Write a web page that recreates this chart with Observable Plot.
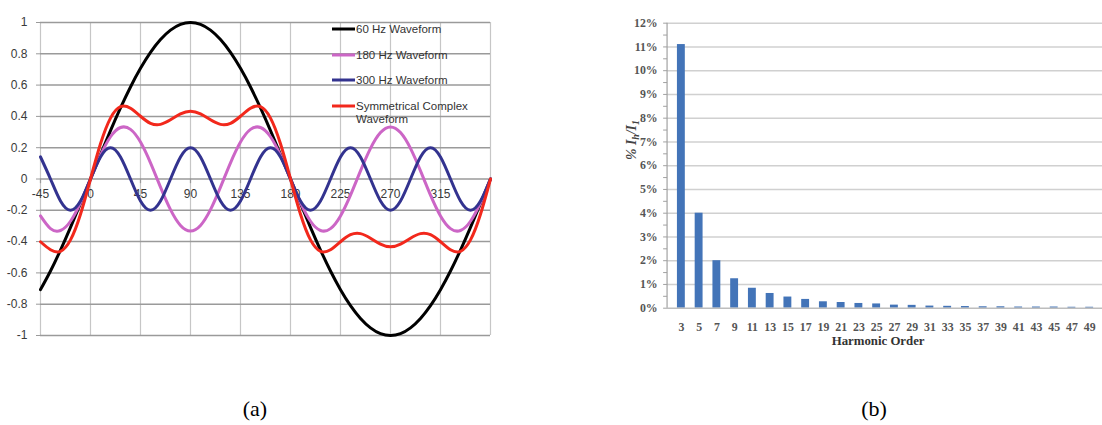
<!DOCTYPE html>
<html>
<head>
<meta charset="utf-8">
<script src="https://cdn.jsdelivr.net/npm/d3@7"></script>
<script src="https://cdn.jsdelivr.net/npm/@observablehq/plot@0.6"></script>
<style>
  html, body { margin: 0; padding: 0; background: #fff; overflow: hidden; }
  #fig { position: relative; width: 1102px; height: 425px; overflow: hidden; background: #fff; }
  .panel { position: absolute; top: 0; }
  .cap { position: absolute; width: 100px; text-align: center; font-family: "Liberation Serif", "Times New Roman", serif; font-size: 22px; line-height: 22px; color: #000; }
</style>
</head>
<body>
<div id="fig">
  <div id="panelA" class="panel" style="left:0px"></div>
  <div id="panelB" class="panel" style="left:600px"></div>
  <div class="cap" style="left:205px; top:398px">(a)</div>
  <div class="cap" style="left:824px; top:398px">(b)</div>
</div>
<script>
// ---- (a) one cycle of the fundamental and its odd harmonics, sampled every 9 degrees ----
const angle = [-45, -36, -27, -18, -9,
  0, 9, 18, 27, 36, 45, 54, 63, 72, 81,
  90, 99, 108, 117, 126, 135, 144, 153, 162, 171,
  180, 189, 198, 207, 216, 225, 234, 243, 252, 261,
  270, 279, 288, 297, 306, 315, 324, 333, 342, 351,
  360];

const wave60 = [-0.707, -0.588, -0.454, -0.309, -0.156,
  0, 0.156, 0.309, 0.454, 0.588, 0.707, 0.809, 0.891, 0.951, 0.988,
  1, 0.988, 0.951, 0.891, 0.809, 0.707, 0.588, 0.454, 0.309, 0.156,
  0, -0.156, -0.309, -0.454, -0.588, -0.707, -0.809, -0.891, -0.951, -0.988,
  -1, -0.988, -0.951, -0.891, -0.809, -0.707, -0.588, -0.454, -0.309, -0.156,
  0];

const wave180 = [-0.236, -0.317, -0.329, -0.270, -0.151,
  0, 0.151, 0.270, 0.329, 0.317, 0.236, 0.103, -0.052, -0.196, -0.297,
  -0.333, -0.297, -0.196, -0.052, 0.103, 0.236, 0.317, 0.329, 0.270, 0.151,
  0, -0.151, -0.270, -0.329, -0.317, -0.236, -0.103, 0.052, 0.196, 0.297,
  0.333, 0.297, 0.196, 0.052, -0.103, -0.236, -0.317, -0.329, -0.270, -0.151,
  0];

const wave300 = [0.141, 0, -0.141, -0.2, -0.141,
  0, 0.141, 0.2, 0.141, 0, -0.141, -0.2, -0.141, 0, 0.141,
  0.2, 0.141, 0, -0.141, -0.2, -0.141, 0, 0.141, 0.2, 0.141,
  0, -0.141, -0.2, -0.141, 0, 0.141, 0.2, 0.141, 0, -0.141,
  -0.2, -0.141, 0, 0.141, 0.2, 0.141, 0, -0.141, -0.2, -0.141,
  0];

const waveComplex = [-0.401, -0.452, -0.462, -0.389, -0.225,
  0, 0.225, 0.389, 0.462, 0.452, 0.401, 0.356, 0.349, 0.378, 0.416,
  0.433, 0.416, 0.378, 0.349, 0.356, 0.401, 0.452, 0.462, 0.389, 0.225,
  0, -0.225, -0.389, -0.462, -0.452, -0.401, -0.356, -0.349, -0.378, -0.416,
  -0.433, -0.416, -0.378, -0.349, -0.356, -0.401, -0.452, -0.462, -0.389, -0.225,
  0];

const waveNames = ["60 Hz Waveform", "180 Hz Waveform", "300 Hz Waveform", "Symmetrical Complex Waveform"];
const waveLegendLines = [["60 Hz Waveform"], ["180 Hz Waveform"], ["300 Hz Waveform"], ["Symmetrical Complex", "Waveform"]];
const waveColors = ["#000000", "#cc66c6", "#33338f", "#f2281c"];
const angleGrid = [-45, 0, 45, 90, 135, 180, 225, 270, 315, 360];
const angleLabels = [-45, 0, 45, 90, 135, 180, 225, 270, 315];
const ampTicks = [1, 0.8, 0.6, 0.4, 0.2, 0, -0.2, -0.4, -0.6, -0.8, -1];

// ---- (b) harmonic spectrum, percent of the fundamental ----
const harmonicOrder = [3, 5, 7, 9, 11, 13, 15, 17, 19, 21, 23, 25, 27, 29, 31, 33, 35, 37, 39, 41, 43, 45, 47, 49];
const harmonicPct = [11.1, 4.0, 2.0, 1.24, 0.84, 0.62, 0.47, 0.37, 0.27, 0.24, 0.2, 0.18, 0.13, 0.12, 0.09, 0.08, 0.07, 0.06, 0.06, 0.05, 0.05, 0.05, 0.04, 0.04];
const pctTicks = [0, 1, 2, 3, 4, 5, 6, 7, 8, 9, 10, 11, 12];
const pctMinorTicks = [0, 0.5, 1, 1.5, 2, 2.5, 3, 3.5, 4, 4.5, 5, 5.5, 6, 6.5, 7, 7.5, 8, 8.5, 9, 9.5, 10, 10.5, 11, 11.5, 12];

// long-form rows for the line mark
const waveSeries = [wave60, wave180, wave300, waveComplex];
const waveRows = waveSeries.flatMap((vals, k) =>
  vals.map((v, j) => ({angle: angle[j], value: v, name: waveNames[k]})));

const sans = "'Liberation Sans', Arial, sans-serif";
const serif = "'Liberation Serif', 'Times New Roman', serif";

const chartA = Plot.plot({
  width: 510, height: 350,
  marginLeft: 40, marginRight: 20, marginTop: 22, marginBottom: 15,
  x: {domain: [-45, 360], axis: null},
  y: {domain: [-1, 1]},
  color: {domain: waveNames, range: waveColors},
  style: {fontFamily: sans, fontSize: "12px", color: "#3a3a3a", background: "transparent"},
  marks: [
    Plot.ruleX(angleGrid, {stroke: "#c6c6c6", strokeWidth: 1.2}),
    Plot.ruleY(ampTicks, {stroke: "#9a9a9a", strokeWidth: 1.5}),
    Plot.axisY(ampTicks, {tickSize: 4, tickPadding: 9, stroke: "#9a9a9a", tickFormat: d => String(d), label: null, fontSize: 12}),
    Plot.ruleX(angleLabels, {x: d => d, y1: 0, y2: -0.03, stroke: "#9a9a9a", strokeWidth: 1.2}),
    Plot.text(angleLabels, {x: d => d, y: 0, dy: 15, text: d => String(d), fill: "#3a3a3a", fontSize: 12}),
    Plot.line(waveRows, {x: "angle", y: "value", z: "name", stroke: "name", strokeWidth: 3, curve: "natural"})
  ]
});
document.getElementById("panelA").appendChild(chartA);

// legend inside the waveform panel
{
  const svg = d3.select(chartA);
  const g = svg.append("g").attr("font-family", sans).attr("font-size", 11.5)
    .attr("fill", "#333").attr("text-anchor", "start");
  const rowY = [29, 55, 80, 106];
  waveLegendLines.forEach((lines, i) => {
    g.append("line").attr("x1", 332).attr("x2", 355).attr("y1", rowY[i]).attr("y2", rowY[i])
      .attr("stroke", waveColors[i]).attr("stroke-width", 3);
    lines.forEach((t, j) => {
      g.append("text").attr("x", 356).attr("y", rowY[i] + j * 12.5).attr("dy", "0.35em").text(t);
    });
  });
}

const chartB = Plot.plot({
  width: 509, height: 360,
  marginLeft: 68, marginRight: 0, marginTop: 23, marginBottom: 48,
  x: {domain: harmonicOrder, paddingInner: 0.58, paddingOuter: 0.4},
  y: {domain: [0, 12]},
  style: {fontFamily: serif, fontSize: "12px", color: "#555", background: "transparent"},
  marks: [
    Plot.ruleY(pctTicks.slice(1), {stroke: "#d0d0d0", strokeWidth: 1.5}),
    Plot.barY(harmonicOrder, {x: d => d, y: (d, i) => harmonicPct[i], fill: "#4374b8"}),
    Plot.ruleY([0], {stroke: "#bdbdbd", strokeWidth: 1.5}),
    Plot.axisY(pctMinorTicks, {tickSize: 4, tickPadding: 6, stroke: "#a0a0a0",
      tickFormat: d => Number.isInteger(d) ? d + "%" : "", label: null, fontWeight: "bold", fill: "#555"}),
    Plot.axisX({tickSize: 0, tickPadding: 15, label: null, fontWeight: "bold", fill: "#555"}),
    Plot.text(["Harmonic Order"], {frameAnchor: "bottom", dy: 37, dx: -7, fontWeight: "bold", fontSize: 13, fill: "#333"})
  ]
});
document.getElementById("panelB").appendChild(chartB);

// value axis line and rotated title for the spectrum
{
  const svg = d3.select(chartB);
  const sy = chartB.scale("y");
  svg.append("line").attr("x1", 68).attr("x2", 68)
    .attr("y1", sy.apply(0)).attr("y2", sy.apply(12))
    .attr("stroke", "#a0a0a0").attr("stroke-width", 1.2);
  const t = svg.append("text")
    .attr("transform", "translate(37,142) rotate(-90)")
    .attr("text-anchor", "middle")
    .attr("font-family", serif).attr("font-size", 14)
    .attr("font-weight", "bold").attr("font-style", "italic").attr("fill", "#444");
  t.append("tspan").text("% I");
  t.append("tspan").attr("font-size", 10).attr("dy", 3).text("h");
  t.append("tspan").attr("dy", -3).text("/I");
  t.append("tspan").attr("font-size", 10).attr("dy", 3).text("1");
}
</script>
</body>
</html>
